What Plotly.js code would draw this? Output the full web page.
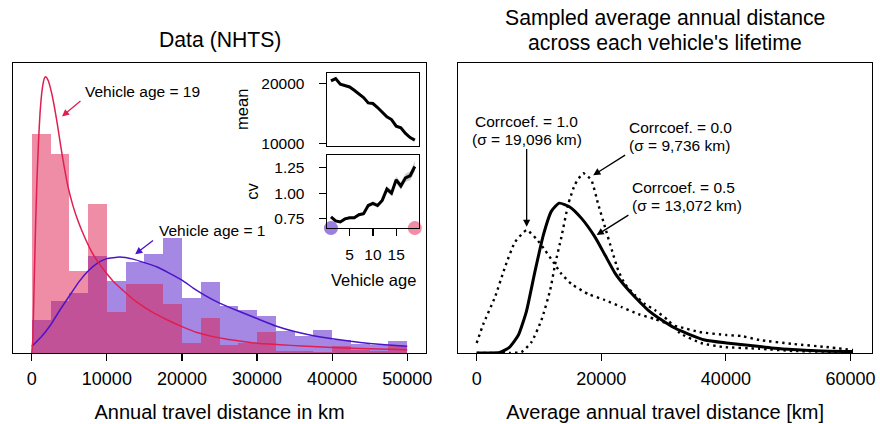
<!DOCTYPE html>
<html>
<head>
<meta charset="utf-8">
<script src="https://cdn.plot.ly/plotly-3.0.1.min.js"></script>
<style>html,body{margin:0;padding:0;background:#fff;}#chart{width:880px;height:424px;}</style>
</head>
<body>
<div id="chart"></div>
<script>
// ---------------- data ----------------
// Left panel: NHTS annual travel distance histograms (share of vehicles per 2,500 km bin, %)
const bin_left_km = [0,2500,5000,7500,10000,12500,15000,17500,20000,22500,25000,27500,30000,32500,35000,37500,40000,42500,45000,47500];
const bin_width_km = 2500;
const share_age1_pct  = [3.4,5.3,6.1,9.9,7.4,9.3,10.1,11.7,5.6,7.3,4.8,4.4,3.8,2.2,1.7,2.3,1.3,0.9,0.8,1.2];
const share_age19_pct = [22.4,20.3,8.4,15.2,4.2,7.0,7.0,5.0,1.0,3.6,0.8,1.0,2.1,0.2,0.2,0.1,0.7,0.3,0.2,0.7];

// fitted distributions (same units)
const fit19_km  = [0,150,300,500,700,900,1100,1400,1700,1900,2200,2600,3000,3400,3800,4300,4850,5500,6200,7000,8000,9000,10000,11000,12000,13000,14000,16000,18000,20000,22000,24000,26000,28000,30000,33000,36000,40000,45000,50000];
const fit19_val = [0,1.5,6.6,12.8,17.9,21.6,24.5,27.0,28.1,28.2,27.8,26.7,25.2,23.4,21.4,19.1,16.9,15.0,13.4,11.9,10.3,9.1,8.1,7.2,6.5,5.8,5.2,4.2,3.4,2.7,2.1,1.7,1.4,1.2,1.0,0.85,0.71,0.56,0.43,0.34];
const fit1_km   = [0,1250,2500,3750,5000,6250,7500,8750,10000,11700,13500,15000,16700,18300,20000,21500,23000,25000,27500,30000,32500,35000,37500,40000,42500,45000,47500,50000];
const fit1_val  = [0.68,1.63,2.86,4.39,5.82,7.24,8.37,9.18,9.64,9.80,9.59,9.23,8.78,8.16,7.45,6.63,5.92,5.10,4.29,3.52,2.76,2.19,1.77,1.46,1.19,0.98,0.82,0.68];

// Inset: mean and coefficient of variation by vehicle age
const vehicle_age = [1,2,3,4,5,6,7,8,9,10,11,12,13,14,15,16,17,18,19];
const mean_km = [20440,20830,19890,19720,19440,18890,18330,17670,16780,16670,16000,15280,14440,14000,12890,12610,11670,11000,10560];
const cv      = [0.77,0.73,0.72,0.75,0.76,0.76,0.79,0.80,0.88,0.90,0.88,0.93,1.04,1.00,1.13,1.07,1.15,1.17,1.26];
const cv_ci_half = [0.012,0.012,0.012,0.013,0.013,0.014,0.015,0.016,0.018,0.020,0.022,0.024,0.027,0.030,0.033,0.036,0.040,0.044,0.050];
const highlighted_ages = [1,19];

// Right panel: sampled lifetime-average annual distance (relative density)
const corr05_km  = [0,2000,3700,5300,6700,8000,9300,10700,12000,13250,15000,16800,19000,20600,22200,23800,25400,27500,29700,31800,34000,36600,40100,44700,47300,50000,55400,60400];
const corr05_den = [0,0,0.005,0.06,0.18,0.42,0.80,1.18,1.42,1.50,1.46,1.35,1.16,0.98,0.80,0.67,0.56,0.43,0.33,0.25,0.19,0.13,0.10,0.07,0.05,0.037,0.02,0.015];
const corr00_km  = [0,5300,7200,8800,10400,11800,12600,13600,14700,15800,17100,18400,19500,20600,21700,22700,23800,25400,27000,28600,30700,32600,36000,39600,45400,50800,60400];
const corr00_den = [0,0,0.01,0.11,0.33,0.63,0.89,1.16,1.49,1.69,1.80,1.73,1.49,1.26,1.03,0.83,0.69,0.58,0.49,0.43,0.33,0.20,0.10,0.06,0.043,0.02,0.01];
const corr10_km  = [0,1070,2940,4550,6150,8020,9620,10960,12300,13630,15240,17910,20580,23260,25920,28600,31280,32600,35800,40100,42500,45400,50800,56100,60400];
const corr10_den = [0.10,0.29,0.56,0.86,1.11,1.23,1.14,1.03,0.91,0.79,0.69,0.59,0.53,0.46,0.39,0.34,0.28,0.26,0.21,0.18,0.17,0.13,0.09,0.06,0.03];

const x_ticks_left  = [0,10000,20000,30000,40000,50000];
const x_ticks_right = [0,20000,40000,60000];
const age_ticks = [5,10,15];
const mean_ticks = [10000,20000];
const cv_ticks = [0.75,1.00,1.25];
const cv_tick_text = ['0.75','1.00','1.25'];

// ---------------- styles ----------------
const FONT = 'Liberation Sans, Arial, Helvetica, sans-serif';
const PINK = 'rgb(225,30,80)';
const PURPLE = 'rgb(75,20,200)';
const binCenters = bin_left_km.map(b => b + bin_width_km/2);

const traces = [
  {type:'bar', x:binCenters, y:share_age1_pct, width:bin_width_km, marker:{color:PURPLE, line:{width:0}}, opacity:0.5, xaxis:'x', yaxis:'y', hoverinfo:'skip'},
  {type:'bar', x:binCenters, y:share_age19_pct, width:bin_width_km, marker:{color:PINK, line:{width:0}}, opacity:0.5, xaxis:'x', yaxis:'y', hoverinfo:'skip'},
  {type:'scatter', mode:'lines', x:fit1_km, y:fit1_val, line:{color:PURPLE, width:1.5, shape:'spline', smoothing:0.4}, xaxis:'x', yaxis:'y'},
  {type:'scatter', mode:'lines', x:fit19_km, y:fit19_val, line:{color:PINK, width:1.5, shape:'spline', smoothing:0.4}, xaxis:'x', yaxis:'y'},
  // inset mean
  {type:'scatter', mode:'lines', x:vehicle_age, y:mean_km, line:{color:'#000', width:3}, xaxis:'x3', yaxis:'y3'},
  // inset cv band + line
  {type:'scatter', mode:'lines', x:vehicle_age, y:cv.map((v,i)=>v+cv_ci_half[i]), line:{width:0, color:'rgba(0,0,0,0)'}, xaxis:'x4', yaxis:'y4', hoverinfo:'skip'},
  {type:'scatter', mode:'lines', x:vehicle_age, y:cv.map((v,i)=>v-cv_ci_half[i]), line:{width:0, color:'rgba(0,0,0,0)'}, fill:'tonexty', fillcolor:'rgba(0,0,0,0.2)', xaxis:'x4', yaxis:'y4', hoverinfo:'skip'},
  {type:'scatter', mode:'lines', x:vehicle_age, y:cv, line:{color:'#000', width:3}, xaxis:'x4', yaxis:'y4'},
  {type:'scatter', mode:'markers', x:highlighted_ages, y:[0.66,0.66], marker:{size:14, color:['rgba(75,20,200,0.55)','rgba(225,30,80,0.5)'], line:{width:0}}, cliponaxis:false, xaxis:'x4', yaxis:'y4'},
  // right panel
  {type:'scatter', mode:'lines', x:corr10_km, y:corr10_den, line:{color:'#000', width:2.4, dash:'2.4px,4px', shape:'spline', smoothing:0.5}, xaxis:'x2', yaxis:'y2'},
  {type:'scatter', mode:'lines', x:corr00_km, y:corr00_den, line:{color:'#000', width:2.4, dash:'2.4px,4px', shape:'spline', smoothing:0.5}, xaxis:'x2', yaxis:'y2'},
  {type:'scatter', mode:'lines', x:corr05_km, y:corr05_den, line:{color:'#000', width:3, shape:'spline', smoothing:0.5}, xaxis:'x2', yaxis:'y2'}
];

const axBase = {showline:true, mirror:true, linecolor:'#000', linewidth:1.2, showgrid:false, zeroline:false, ticks:'outside', ticklen:7, tickwidth:1.2, tickcolor:'#000'};
const W = 880, H = 424, ML = 12.7, MR = 7.7, MT = 62.7, MB = 71;
const PW = W - ML - MR, PH = H - MT - MB;
const px = v => (v - ML) / PW;
const py = v => (H - MB - v) / PH;

function arrow(xr, yr, x, y, ax, ay, color){
  return {xref:xr, yref:yr, axref:xr, ayref:yr, x:x, y:y, ax:ax, ay:ay, text:'', showarrow:true,
          arrowhead:2, arrowsize:1.1, arrowwidth:1.3, arrowcolor:color, standoff:0, startstandoff:0};
}
function label(xr, yr, x, y, text, xanchor, size, angle){
  return {xref:xr, yref:yr, x:x, y:y, text:text, showarrow:false, xanchor:xanchor||'center', yanchor:'middle',
          textangle:angle||0, align:xanchor==='left'?'left':'center', font:{size:size||15.5, color:'#000', family:FONT}};
}

const annotations = [
  label('paper','paper', px(219.4), py(40), 'Data (NHTS)', 'center', 21.2),
  label('paper','paper', px(665.3), py(18), 'Sampled average annual distance', 'center', 21.2),
  label('paper','paper', px(665.3), py(42), 'across each vehicle\'s lifetime', 'center', 21.2),
  label('x','y', 6855, 26.74, 'Vehicle age = 19', 'left'),
  arrow('x','y', 4020, 24.16, 6682, 25.87, PINK),
  label('x','y', 16662, 12.54, 'Vehicle age = 1', 'left'),
  arrow('x','y', 13774, 10.09, 16343, 11.62, PURPLE),
  label('x2','y2', 8021, 2.32, 'Corrcoef. = 1.0', 'center'),
  label('x2','y2', 8021, 2.14, '(σ = 19,096 km)', 'center'),
  arrow('x2','y2', 8021, 1.263, 8021, 2.057, '#000'),
  label('x2','y2', 24065, 2.255, 'Corrcoef. = 0.0', 'left'),
  label('x2','y2', 24065, 2.075, '(σ = 9,736 km)', 'left'),
  arrow('x2','y2', 18706, 1.78, 24065, 1.99, '#000'),
  label('x2','y2', 24594, 1.653, 'Corrcoef. = 0.5', 'left'),
  label('x2','y2', 24594, 1.473, '(σ = 13,072 km)', 'left'),
  arrow('x2','y2', 19252, 1.18, 24594, 1.39, '#000'),
  label('paper','paper', px(242), py(109.5), 'mean', 'center', 16.5, -90),
  label('paper','paper', px(252), py(191.5), 'cv', 'center', 16.5, -90),
  label('paper','paper', px(373), py(280), 'Vehicle age', 'center', 16.5)
];

const layout = {
  width:W, height:H,
  margin:{l:ML, r:MR, t:MT, b:MB, pad:0},
  paper_bgcolor:'#fff', plot_bgcolor:'#fff',
  showlegend:false, barmode:'overlay', bargap:0,
  font:{family:FONT, color:'#000', size:18},
  xaxis: Object.assign({}, axBase, {domain:[0, px(426)], anchor:'y', range:[-2500,52500],
          tickvals:x_ticks_left, ticktext:x_ticks_left.map(String), tickfont:{size:18}, ticklabelstandoff:2,
          title:{text:'Annual travel distance in km', font:{size:20}, standoff:17}}),
  yaxis: Object.assign({}, axBase, {domain:[0,1], anchor:'x', range:[0,29.62], ticks:'', showticklabels:false}),
  xaxis2: Object.assign({}, axBase, {domain:[px(458.3), 1], anchor:'y2', range:[-2950,63450],
          tickvals:x_ticks_right, ticktext:x_ticks_right.map(String), tickfont:{size:18}, ticklabelstandoff:2,
          title:{text:'Average annual travel distance [km]', font:{size:20}, standoff:17}}),
  yaxis2: Object.assign({}, axBase, {domain:[0,1], anchor:'x2', range:[0,2.903], ticks:'', showticklabels:false}),
  xaxis3: Object.assign({}, axBase, {domain:[px(326.7), px(419)], anchor:'y3', range:[0.1,19.9], ticks:'', showticklabels:false}),
  yaxis3: Object.assign({}, axBase, {domain:[py(146), py(73)], anchor:'x3', range:[9550,21717],
          tickvals:mean_ticks, ticktext:mean_ticks.map(String), tickfont:{size:15.5}, ticklabelstandoff:11}),
  xaxis4: Object.assign({}, axBase, {domain:[px(326.7), px(419)], anchor:'y4', range:[0.1,19.9],
          tickvals:age_ticks, ticktext:age_ticks.map(String), tickfont:{size:15.5}, ticklabelstandoff:5}),
  yaxis4: Object.assign({}, axBase, {domain:[py(228), py(155)], anchor:'x4', range:[0.66,1.37],
          tickvals:cv_ticks, ticktext:cv_tick_text, tickfont:{size:15.5}, ticklabelstandoff:11}),
  annotations: annotations
};

Plotly.newPlot('chart', traces, layout, {staticPlot:true, displayModeBar:false});
</script>
</body>
</html>
